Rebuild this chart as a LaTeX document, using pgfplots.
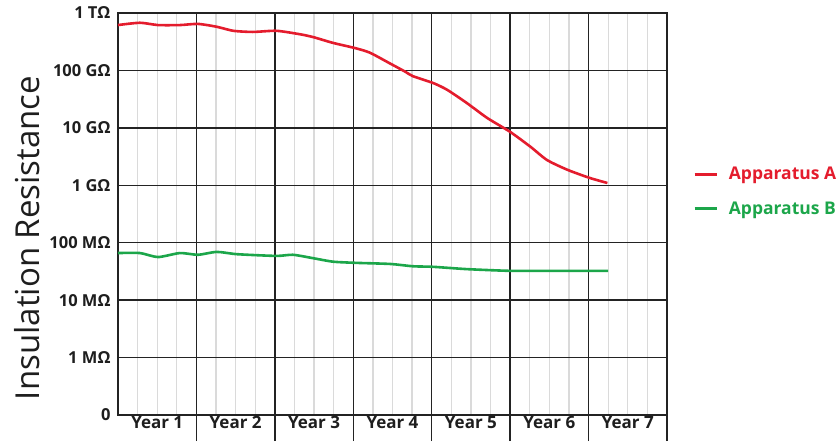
\documentclass[border=0pt]{standalone}
\usepackage{pgfplots}
\pgfplotsset{compat=1.18}
\usepackage{fontspec}
\setmainfont{Open Sans}
\definecolor{appA}{RGB}{228,28,45}
\definecolor{appB}{RGB}{28,166,74}
\definecolor{gridmaj}{RGB}{35,35,35}
\definecolor{gridmin}{RGB}{218,218,218}
\definecolor{txt}{RGB}{30,30,30}
\begin{document}
\begin{tikzpicture}
\useasboundingbox (0,0) rectangle (838bp,443bp);
\begin{axis}[
  at={(118bp,28bp)}, anchor=south west,
  width=549bp, height=402bp, scale only axis,
  xmin=0, xmax=7, ymin=0, ymax=7,
  axis line style={draw=gridmaj, line width=1.4bp},
  xtick={1,...,7}, xticklabels={},
  minor xtick={0.25,0.5,0.75,1.25,1.5,1.75,2.25,2.5,2.75,3.25,3.5,3.75,4.25,4.5,4.75,5.25,5.5,5.75,6.25,6.5,6.75},
  xmajorgrids, ymajorgrids, xminorgrids,
  major grid style={draw=gridmaj, line width=1.4bp},
  minor grid style={draw=gridmin, line width=1.3bp},
  minor tick length=0pt,
  tick align=outside,
  xtick pos=lower, ytick pos=left,
  major tick length=26bp,
  xtick style={draw=gridmaj, line width=1.4bp},
  ytick style={draw=none},
  ytick={0,...,7},
  yticklabels={0,1 MΩ,10 MΩ,100 MΩ,1 GΩ,10 GΩ,100 GΩ,1 TΩ},
  yticklabel style={font=\fontsize{16.5bp}{18bp}\selectfont\bfseries, text=txt, xshift=22bp},
  extra x ticks={0.5,1.5,2.5,3.5,4.5,5.5,6.5},
  extra x tick labels={Year 1,Year 2,Year 3,Year 4,Year 5,Year 6,Year 7},
  extra x tick style={grid=none, major tick length=0pt,
     xticklabel style={font=\fontsize{17bp}{19bp}\selectfont\bfseries, text=txt, yshift=2bp}},
  clip=false,
  legend style={at={(1.042,0.556)}, anchor=west, draw=none, fill=none,
     font=\fontsize{17.5bp}{19bp}\selectfont\bfseries, row sep=20bp,
     nodes={inner sep=0pt}},
  legend cell align=left,
  legend image code/.code={\draw[#1] (0bp,0bp) -- (22bp,0bp); \path (33bp,0bp);},
]
\addplot[appA, line width=2.6bp, smooth, tension=0.4] coordinates {
(0,6.79) (0.28,6.83) (0.51,6.79) (0.79,6.79) (1.02,6.81) (1.26,6.76) (1.47,6.69) (1.72,6.67) (2.02,6.69) (2.32,6.63) (2.49,6.58) (2.74,6.48) (3.02,6.39) (3.21,6.31) (3.47,6.12) (3.66,5.98) (3.76,5.90) (4.02,5.78) (4.20,5.66) (4.45,5.43) (4.71,5.17) (5.00,4.93) (5.26,4.67) (5.47,4.44) (5.73,4.27) (6.01,4.13) (6.24,4.04)
};
\addlegendentry{\textcolor{appA}{Apparatus A}}
\addplot[appB, line width=2.6bp, smooth, tension=0.4] coordinates {
(0,2.82) (0.28,2.82) (0.51,2.75) (0.79,2.82) (1.02,2.79) (1.26,2.84) (1.52,2.80) (2.02,2.77) (2.23,2.79) (2.49,2.73) (2.74,2.67) (3.02,2.65) (3.47,2.63) (3.76,2.59) (4.02,2.58) (4.45,2.54) (5.00,2.51) (5.47,2.51) (6.01,2.51) (6.25,2.51)
};
\addlegendentry{\textcolor{appB}{Apparatus B}}
\end{axis}
\node[rotate=90, font=\fontsize{33bp}{36bp}\selectfont, text=txt] at (27bp,205bp) {Insulation Resistance};
\end{tikzpicture}
\end{document}
